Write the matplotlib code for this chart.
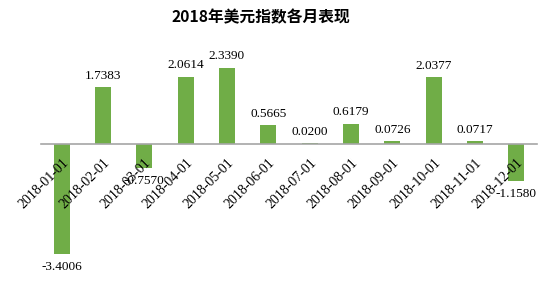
import matplotlib
matplotlib.use("Agg")
import matplotlib.pyplot as plt

# 2018 monthly change of the US dollar index
months = ["2018-01-01", "2018-02-01", "2018-03-01", "2018-04-01",
          "2018-05-01", "2018-06-01", "2018-07-01", "2018-08-01",
          "2018-09-01", "2018-10-01", "2018-11-01", "2018-12-01"]
values = [-3.4006, 1.7383, -0.7570, 2.0614, 2.3390, 0.5665,
          0.0200, 0.6179, 0.0726, 2.0377, 0.0717, -1.1580]

TITLE = "2018年美元指数各月表现"
BAR_COLOR = "#70AD47"
SERIF = ["Liberation Serif", "DejaVu Serif"]

fig = plt.figure(figsize=(5.48, 2.86), dpi=100)
ax = fig.add_axes([41 / 548, 12 / 286, 496 / 548, 228 / 286])

x = list(range(len(months)))
ax.bar(x, values, width=0.39, color=BAR_COLOR, zorder=1)

for xi, v in zip(x, values):
    ax.annotate(f"{v:.4f}", (xi, v),
                xytext=(0, 4 if v >= 0 else -5), textcoords="offset points",
                ha="center", va="bottom" if v >= 0 else "top",
                fontsize=9.5, family=SERIF, color="black", zorder=4)

ax.set_xlim(-0.5, len(months) - 0.5)
ax.set_ylim(-4, 3)

for side in ["top", "right", "left"]:
    ax.spines[side].set_visible(False)
ax.spines["bottom"].set_position(("data", 0))
ax.spines["bottom"].set_color("#a6a6a6")
ax.spines["bottom"].set_linewidth(1.2)
ax.spines["bottom"].set_zorder(3)

ax.set_yticks([])
ax.set_xticks(x)
ax.set_xticklabels(months, rotation=45, ha="right", va="top",
                   rotation_mode="anchor", fontsize=10, family=SERIF)
ax.tick_params(axis="x", length=0, pad=9)
ax.xaxis.set_zorder(5)

fig.suptitle(TITLE, x=261 / 548, y=1 - 17 / 286, va="center",
             fontsize=11.3, fontweight="bold",
             family=["Noto Sans CJK SC", "DejaVu Sans"])

fig.savefig("out.png", dpi=100)
